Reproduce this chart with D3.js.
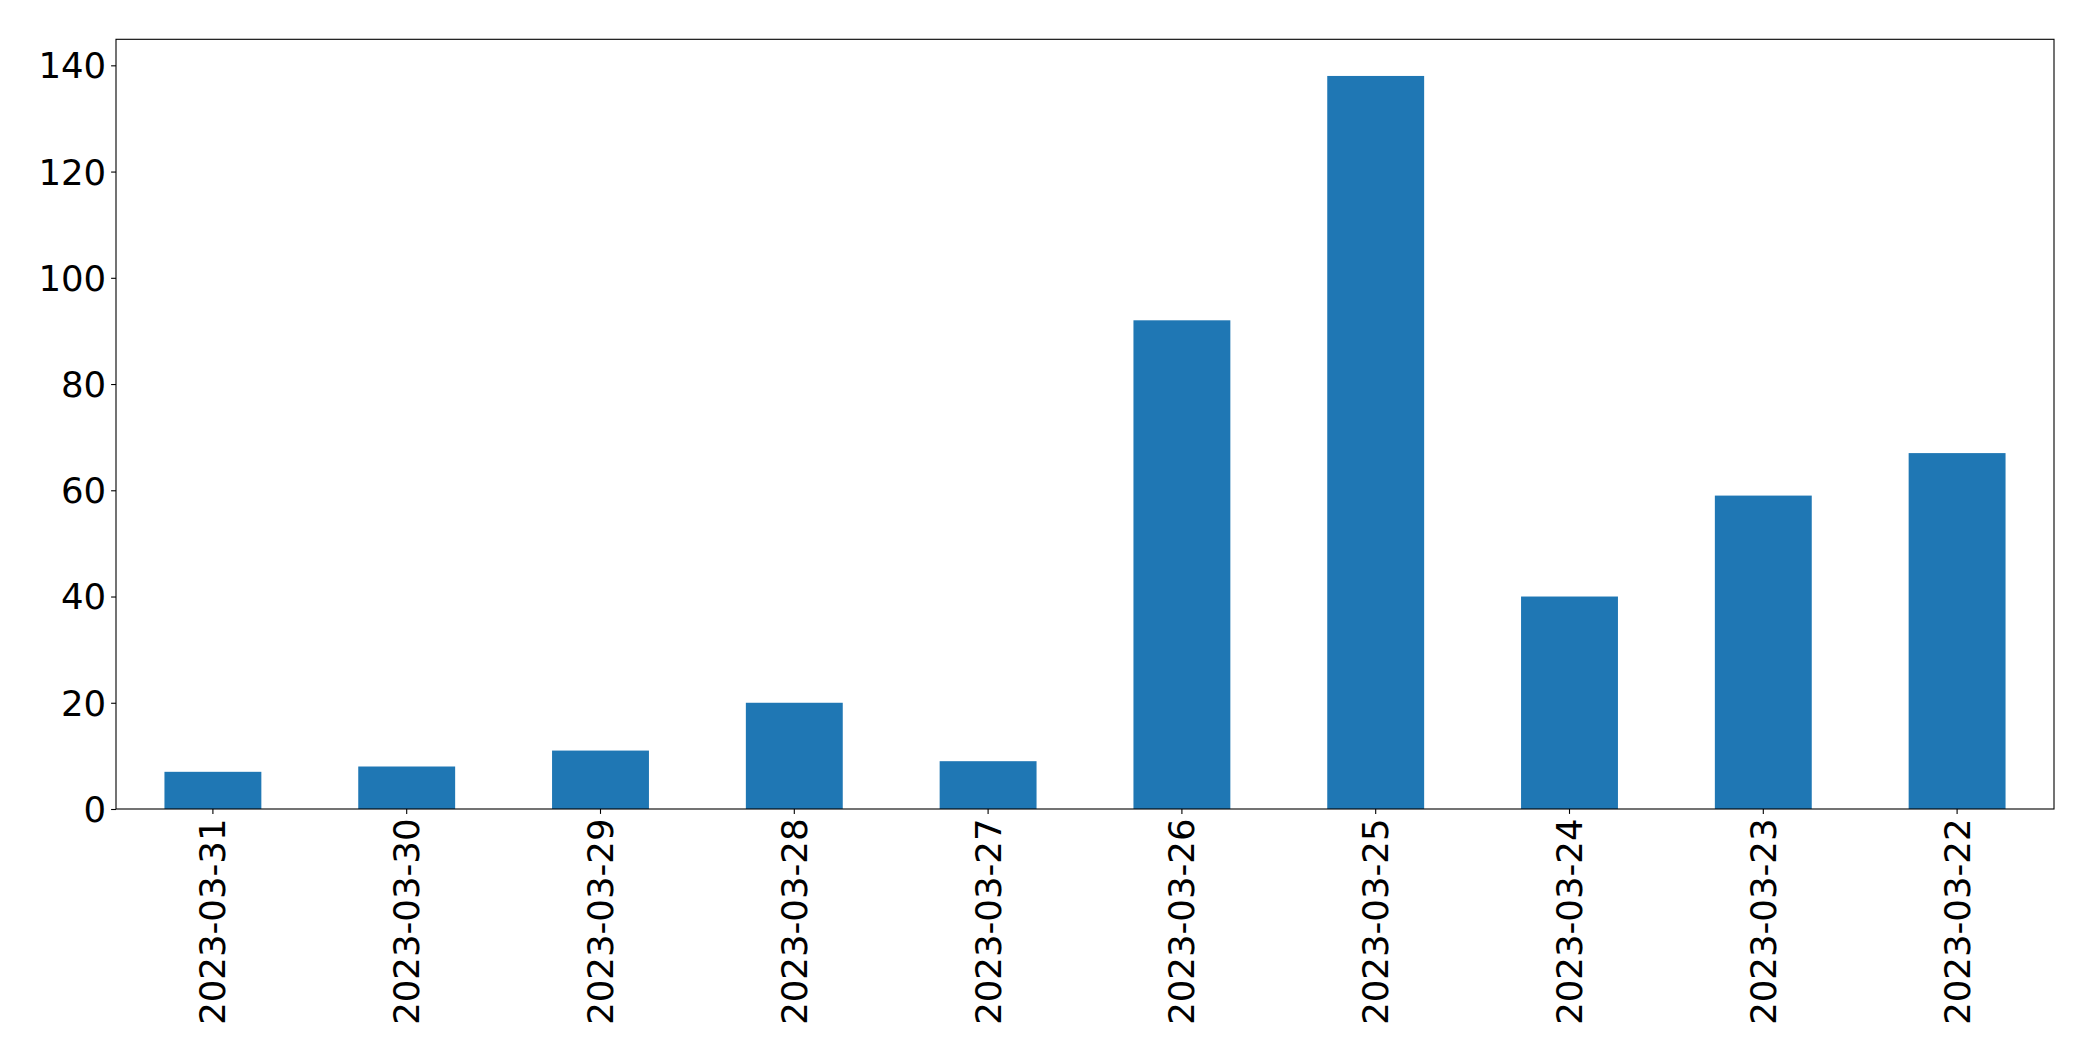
<!DOCTYPE html>
<html><head><meta charset="utf-8">
<script src="https://cdn.jsdelivr.net/npm/d3@7"></script>
<style>body{margin:0;background:#fff}svg{display:block}</style>
</head><body><svg id="chart" width="2093" height="1061"></svg>
<script>
const categories = ["2023-03-31","2023-03-30","2023-03-29","2023-03-28","2023-03-27","2023-03-26","2023-03-25","2023-03-24","2023-03-23","2023-03-22"];
const values = [7, 8, 11, 20, 9, 92, 138, 40, 59, 67];
const yTicks = [0, 20, 40, 60, 80, 100, 120, 140];

const svg = d3.select("#chart");
const m = {left:116, right:2054, top:39.3, bottom:809};
const fontSize = 35.5;
const font = "DejaVu Sans";

const x = d3.scaleBand().domain(categories).range([m.left, m.right]).paddingInner(0.5).paddingOuter(0.25);
const ymax = d3.max(values) * 1.05;
const y = d3.scaleLinear().domain([0, ymax]).range([m.bottom, m.top]);

svg.append("g").selectAll("rect").data(values).join("rect")
  .attr("x", (d,i) => x(categories[i]))
  .attr("width", x.bandwidth())
  .attr("y", d => y(d))
  .attr("height", d => y(0) - y(d))
  .attr("fill", "#1f77b4");

const ya = svg.append("g").attr("transform", `translate(${m.left},0)`)
  .call(d3.axisLeft(y).tickValues(yTicks).tickSize(4.9).tickPadding(4.9).tickFormat(d3.format("d")));
ya.select(".domain").remove();
ya.selectAll("line").attr("stroke", "#000").attr("stroke-width", 1.1);
ya.selectAll("text").attr("font-family", font).attr("font-size", fontSize).attr("fill", "#000").attr("dy", "0.35em");

const xa = svg.append("g").attr("transform", `translate(0,${m.bottom})`)
  .call(d3.axisBottom(x).tickSize(4.9).tickPadding(4.9));
xa.select(".domain").remove();
xa.selectAll("line").attr("stroke", "#000").attr("stroke-width", 1.1);
xa.selectAll("text")
  .attr("font-family", font).attr("font-size", fontSize).attr("fill", "#000")
  .attr("transform", "rotate(-90)")
  .attr("text-anchor", "end")
  .attr("x", -9.5).attr("y", 0).attr("dy", "0.35em");

svg.append("rect").attr("x", m.left).attr("y", m.top)
  .attr("width", m.right - m.left).attr("height", m.bottom - m.top)
  .attr("fill", "none").attr("stroke", "#000").attr("stroke-width", 1.1);
</script></body></html>
